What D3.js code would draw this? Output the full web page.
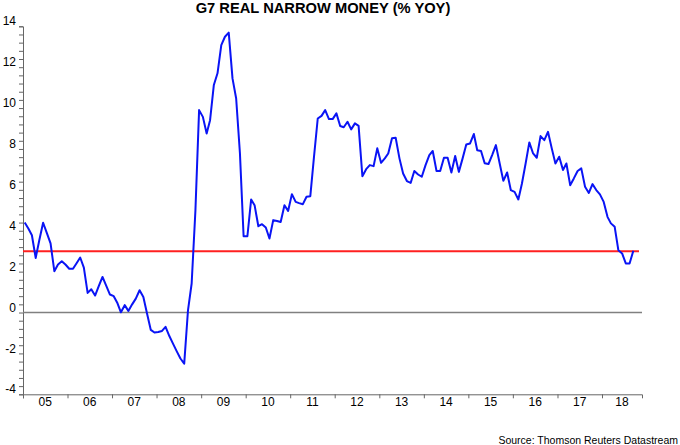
<!DOCTYPE html>
<html>
<head>
<meta charset="utf-8">
<script src="https://cdn.jsdelivr.net/npm/d3@7"></script>
<style>
  body { margin: 0; background: #fff; }
  text { font-family: "Liberation Sans", Arial, sans-serif; }
</style>
</head>
<body>
<div id="chart"></div>
<script>
/* G7 real narrow money, % yoy, monthly from Jan 2005 */

// monthly values, Jan 2005 .. Sep 2018
const values = [
  4.40, 4.10, 3.78, 2.67, 3.55, 4.39, 3.90, 3.38, 2.02, 2.35, 2.51, 2.35,   // 2005
  2.14, 2.14, 2.40, 2.69, 2.20, 0.96, 1.14, 0.83, 1.30, 1.74, 1.30, 0.88,   // 2006
  0.80, 0.45, 0.01, 0.36, 0.08, 0.40, 0.68, 1.09, 0.76, -0.05, -0.85, -0.98, // 2007
  -0.95, -0.90, -0.70, -1.15, -1.52, -1.90, -2.25, -2.50, 0.11, 1.42, 5.00, 9.90, // 2008
  9.57, 8.76, 9.41, 11.13, 11.70, 13.08, 13.49, 13.69, 11.45, 10.47, 7.78, 3.73, // 2009
  3.73, 5.53, 5.25, 4.22, 4.32, 4.16, 3.62, 4.52, 4.48, 4.43, 5.25, 4.97,   // 2010
  5.79, 5.41, 5.35, 5.30, 5.66, 5.69, 7.60, 9.49, 9.62, 9.90, 9.46, 9.46,   // 2011
  9.74, 9.12, 9.06, 9.33, 8.96, 9.25, 9.13, 6.67, 7.01, 7.21, 7.16, 8.03,   // 2012
  7.32, 7.54, 7.78, 8.52, 8.55, 7.54, 6.80, 6.43, 6.34, 6.92, 6.75, 6.64,   // 2013
  7.21, 7.70, 7.90, 6.92, 6.92, 7.57, 7.57, 6.85, 7.66, 6.88, 7.54, 8.22,   // 2014
  8.27, 8.73, 7.94, 7.90, 7.30, 7.26, 7.70, 8.19, 7.29, 6.44, 6.85, 5.99,   // 2015
  5.90, 5.53, 6.30, 7.30, 8.32, 7.78, 7.57, 8.63, 8.43, 8.84, 8.03, 7.29,   // 2016
  7.62, 6.97, 7.29, 6.23, 6.56, 6.92, 7.05, 6.15, 5.85, 6.28, 5.99, 5.78,   // 2017
  5.41, 4.68, 4.36, 4.19, 3.05, 2.89, 2.40, 2.40, 3.02                      // 2018
];

const yMajor = [-4, -2, 0, 2, 4, 6, 8, 10, 12, 14];
const years = [2005, 2006, 2007, 2008, 2009, 2010, 2011, 2012, 2013, 2014, 2015, 2016, 2017, 2018];
const target = 3;

let width = 680,
    height = 445,
    margin = ({ top: 26.3, right: 38, bottom: 50.7, left: 23 });

const svg = d3.select("#chart")
  .append("svg")
  .attr("width", width)
  .attr("height", height);

let data = values.map((v, i) => ({ date: new Date(2005, i, 15), value: v }));

let x = d3.scaleTime()
  .domain([new Date(2005, 0, 1), new Date(2018, 10, 25)])
  .range([margin.left, width - margin.right]);

let y = d3.scaleLinear()
  .domain([-4, 14])
  .range([height - margin.bottom, margin.top]);

// minor ticks every 0.4
let yMinor = d3.range(-4, 14.001, 0.4).map(d => Math.round(d * 10) / 10);

svg.append("g")
  .attr("transform", `translate(${margin.left},0)`)
  .call(d3.axisLeft(y).tickValues(yMinor).tickFormat("").tickSize(4).tickSizeOuter(4))
  .call(g => g.selectAll("path, line").attr("stroke", "#666"));

svg.append("g")
  .selectAll("text")
  .data(yMajor)
  .join("text")
  .attr("x", 16)
  .attr("y", d => y(d) - 4)
  .attr("text-anchor", "end")
  .attr("dominant-baseline", "middle")
  .attr("font-size", 12)
  .attr("fill", "#000")
  .text(d => d);

let yearTicks = years.map(yr => new Date(yr, 0, 1));

svg.append("g")
  .attr("transform", `translate(0,${height - margin.bottom})`)
  .call(d3.axisBottom(x).tickValues(yearTicks).tickFormat("").tickSize(4).tickSizeOuter(4))
  .call(g => g.selectAll("path, line").attr("stroke", "#666"));

// year labels centred in each year's band
svg.append("g")
  .selectAll("text")
  .data(years)
  .join("text")
  .attr("x", yr => (x(new Date(yr, 0, 1)) + Math.min(x(new Date(yr + 1, 0, 1)), x.range()[1])) / 2)
  .attr("y", height - margin.bottom + 9)
  .attr("text-anchor", "middle")
  .attr("dominant-baseline", "middle")
  .attr("font-size", 12)
  .attr("fill", "#000")
  .text(yr => String(yr).slice(2));

// zero line
svg.append("line")
  .attr("x1", x.range()[0]).attr("x2", x.range()[1])
  .attr("y1", y(0)).attr("y2", y(0))
  .attr("stroke", "#808080")
  .attr("stroke-width", 1.5);

// 3% line
svg.append("line")
  .attr("x1", x.range()[0]).attr("x2", x.range()[1] - 3)
  .attr("y1", y(target)).attr("y2", y(target))
  .attr("stroke", "#ff2020")
  .attr("stroke-width", 2);

let line = d3.line()
  .x(d => x(d.date))
  .y(d => y(d.value));

svg.append("path")
  .datum(data)
  .attr("fill", "none")
  .attr("stroke", "#0a14f5")
  .attr("stroke-width", 2)
  .attr("stroke-linejoin", "round")
  .attr("d", line);

svg.append("text")
  .attr("x", 323)
  .attr("y", 13)
  .attr("text-anchor", "middle")
  .attr("font-size", 14.7)
  .attr("font-weight", "bold")
  .attr("fill", "#000")
  .text("G7 REAL NARROW MONEY (% YOY)");

svg.append("text")
  .attr("x", 678)
  .attr("y", 441)
  .attr("text-anchor", "end")
  .attr("dominant-baseline", "middle")
  .attr("font-size", 10.5)
  .attr("fill", "#000")
  .text("Source: Thomson Reuters Datastream");
</script>
</body>
</html>
